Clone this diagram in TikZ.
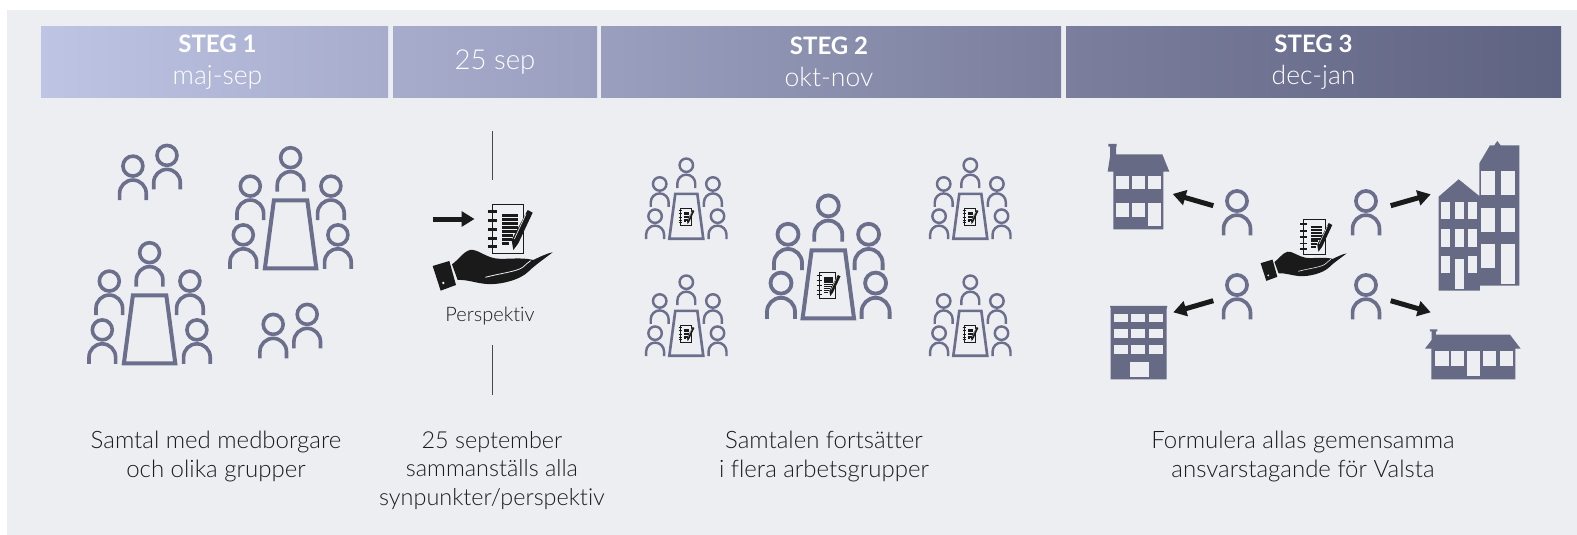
\documentclass[tikz,border=0pt]{standalone}
\usepackage{fontspec}
\setmainfont{Lato Light}[BoldFont=Lato Bold,Ligatures=NoCommon]
\usetikzlibrary{arrows.meta}
\definecolor{bgc}{HTML}{ECEEF2}
\definecolor{ppl}{HTML}{6B6F8C}
\definecolor{bld}{HTML}{666A85}
\definecolor{ink}{HTML}{1A1A1A}
\definecolor{txt}{HTML}{1C1C1C}
\definecolor{ba}{HTML}{BEC4E3}
\definecolor{bb}{HTML}{A7ACCC}
\definecolor{bc}{HTML}{9A9FBF}
\definecolor{bd}{HTML}{7B7F9D}
\definecolor{be}{HTML}{5F6382}
\tikzset{
  bar/.style={inner sep=0pt,minimum height=71pt,text=white,align=center,font=\fontsize{26.5}{32}\selectfont},
  caption/.style={text=txt,align=center,font=\fontsize{24}{28.6}\selectfont,inner sep=0pt,anchor=north},
  pline/.style={draw=ppl,line cap=butt,line join=miter},
  vline/.style={draw=txt!80,line width=1pt},
  fatarrow/.style={draw=ink,line width=5pt,-{Triangle[length=13pt,width=15pt]}},
}
\newcommand{\person}[3]{%
\begin{scope}[shift={(#1,#2)},scale=#3]
  \draw[pline,line width=#3*3.8pt] (0,-35.7) circle (10.5);
  \draw[pline,line width=#3*3.8pt] (-14,0) -- (-14,-7) arc[start angle=180,end angle=360,radius=14] -- (14,0);
\end{scope}}
% x, y of the table's bottom centre, scale of the table and seats, scale of the people
\newcommand{\tablegroup}[4]{%
\begin{scope}[shift={(#1,#2)},scale=#3]
  \draw[pline,line width=#3*4pt] (-16.7,-68) -- (16.7,-68) -- (25.7,0) -- (-25.7,0) -- cycle;
\end{scope}
\pgfmathsetmacro{\gs}{#3}
\person{#1}{#2-76.7*\gs}{#4}
\person{#1-40.3*\gs}{#2-48.3*\gs}{#4}
\person{#1+40.3*\gs}{#2-48.3*\gs}{#4}
\person{#1-47.3*\gs}{#2+0.5*\gs}{#4}
\person{#1+47.3*\gs}{#2+0.5*\gs}{#4}}
\newcommand{\bookshape}[1]{%
  \draw[ink,line width=#1*3pt,fill=bgc!90!white] (218,44) rectangle (310,190);
  \foreach \yy in {65,92,119,146,170}{\draw[ink,line width=#1*7pt] (203,\yy) -- (232,\yy);}
  \foreach \yy/\xx in {77/295,89/295,101/295,113/295,125/290,137/280,149/275,161/268}{\fill[ink] (247,\yy-4) rectangle (\xx,\yy+4);}
  \fill[ink] (323,60) -- (338,68) -- (295,160) -- (280,180) -- (275,150) -- cycle;
  \draw[bgc,line width=#1*2pt] (318,72) -- (283,147);
}
\newcommand{\handshape}[1]{%
  \fill[ink] (38,228) -- (88,213) -- (108,285) -- (62,302) -- cycle;
  \fill[bgc] (70,279) circle (4);
  \fill[ink] (96,223) .. controls (115,210) and (130,185) .. (150,180)
     .. controls (170,176) and (195,200) .. (225,205)
     .. controls (255,210) and (300,200) .. (340,210)
     .. controls (355,203) and (380,190) .. (398,187)
     .. controls (375,205) and (345,225) .. (325,245)
     .. controls (300,270) and (240,285) .. (200,282)
     .. controls (170,280) and (140,268) .. (113,270) -- cycle;
  \draw[bgc,line width=#1*2.4pt] (196,262) .. controls (240,250) and (290,245) .. (308,232) .. controls (318,224) and (322,218) .. (332,212);
}
\newcommand{\placebook}[3]{%
\begin{scope}[shift={(#1,#2)},scale=#3,shift={(-269,-117)}]\bookshape{#3}\end{scope}}
\newcommand{\hb}[1]{{\fontsize{24}{32}\selectfont\textbf{#1}}}
\begin{document}
\begin{tikzpicture}[x=1pt,y=-1pt]
\useasboundingbox (0,0) rectangle (1577,535);
\fill[white] (0,0) rectangle (1577,535);
\fill[bgc] (7,10) rectangle (1577,535);
% headers
\node[bar,left color=ba,right color=bb,minimum width=347pt] (b1) at (214.5,62) {\hspace*{6pt}\hb{STEG 1}\\\hspace*{6pt}maj-sep};
\node[bar,left color=bb,right color=bc,minimum width=204pt] (b2) at (495,62) {\raisebox{-6pt}{\fontsize{27.5}{32}\selectfont 25 sep}};
\node[bar,left color=bc,right color=bd,minimum width=460pt] (b3) at (831,62) {\hspace*{-4pt}\hb{STEG 2}\\\hspace*{-4pt}okt-nov};
\node[bar,left color=bd,right color=be,minimum width=495pt] (b4) at (1313.5,62) {\hb{STEG 3}\\dec-jan};
% captions
\node[caption] (c1) at (216,431) {Samtal med medborgare\\och olika grupper};
\node[caption,font=\fontsize{23.4}{28.6}\selectfont] (c2) at (492,431) {25 september\\sammanställs alla\\synpunkter/perspektiv};
\node[caption] (c3) at (824,431) {Samtalen fortsätter\\i flera arbetsgrupper};
\node[caption] (c4) at (1303,431) {Formulera allas gemensamma\\ansvarstagande för Valsta};
% step 1
\person{132.9}{200}{0.95}
\person{167}{189.3}{0.95}
\person{273.2}{358.3}{0.95}
\person{307.2}{348.3}{0.95}
\tablegroup{290.6}{268.3}{1}{0.95}
\tablegroup{149.6}{363.3}{1}{0.95}
% 25 sep
\coordinate (v1a) at (492.3,131);
\coordinate (v1b) at (492.3,180.3);
\coordinate (v2a) at (492.3,345.3);
\coordinate (v2b) at (492.3,394.7);
\draw[vline] (v1a) -- (v1b);
\draw[vline] (v2a) -- (v2b);
\coordinate (aa) at (432.5,219);
\coordinate (ab) at (474.5,219);
\draw[fatarrow] (aa) -- (ab);
\begin{scope}[shift={(420,190)},scale=0.3333]
  \bookshape{0.3333}
  \handshape{0.3333}
\end{scope}
\node[text=txt,font=\fontsize{20}{24}\selectfont,inner sep=0pt] (persp) at (490,316) {Perspektiv};
% step 2
\tablegroup{828.3}{318.3}{1}{1}
\placebook{828.3}{285}{0.177}
\foreach \gx in {686.3,970.3}{
  \foreach \gy in {238.7,355.7}{
    \tablegroup{\gx}{\gy}{0.66}{0.64}
    \placebook{\gx}{\gy-22}{0.117}
  }
}
% step 3
\person{1237}{235.3}{0.96}
\person{1237}{319.3}{0.96}
\person{1366}{235.3}{0.96}
\person{1366}{319.3}{0.96}
\begin{scope}[shift={(1251.5,208.7)},scale=0.239]
  \bookshape{0.239}
  \handshape{0.239}
\end{scope}
\coordinate (p1) at (1213.3,205.7); \coordinate (h1) at (1172.7,194);
\coordinate (p2) at (1213.3,300.7); \coordinate (h2) at (1173.3,312.3);
\coordinate (p3) at (1390.7,205.7); \coordinate (h3) at (1430.7,194.3);
\coordinate (p4) at (1390.7,300.7); \coordinate (h4) at (1430.7,312.3);
\draw[fatarrow] (p1) -- (h1);
\draw[fatarrow] (p2) -- (h2);
\draw[fatarrow] (p3) -- (h3);
\draw[fatarrow] (p4) -- (h4);
\begin{scope}[shift={(1080,120)},scale=0.3333]
  % building 1
  \fill[bld] (85,72) -- (110,72) -- (110,80) -- (108,80) -- (108,103) -- (247,103) -- (268,155) -- (250,155) -- (250,328) -- (100,328) -- (100,155) -- (83,155) -- (90,110) -- (90,80) -- (85,80) -- cycle;
  \foreach \wa/\wb/\wc/\wd in {108/168/148/208,155/168/194/208,204/168/243/208,108/250/148/290,155/250/194/290,204/250/243/318}
    {\fill[bgc] (\wa,\wb) rectangle (\wc,\wd);}
  % building 2
  \fill[bld] (90,558) -- (262,558) -- (260,566) -- (260,778) -- (92,778) -- (92,566) -- cycle;
  \foreach \wa/\wb/\wc/\wd in {101/582/143/607,154/582/195/607,208/582/250/607,101/628/143/655,154/628/195/655,208/628/250/655,101/676/143/702,154/676/195/702,208/676/250/702,149/725/207/772}
    {\fill[bgc] (\wa,\wb) rectangle (\wc,\wd);}
  % building 3
  \fill[bld] (1198,130) -- (1230,76) -- (1243,76) -- (1252,63) -- (1262,76) -- (1318,76) -- (1318,497) -- (1200,497) -- (1200,512) -- (1076,512) -- (1076,230) -- (1136,178) -- (1198,228) -- cycle;
  \foreach \wa/\wb/\wc/\wd in {1203/153/1245/226,1263/153/1305/226,1203/263/1245/336,1263/263/1305/336,1203/373/1245/444,1263/373/1305/492,1082/245/1110/298,1124/245/1152/298,1164/245/1192/298,1082/327/1110/381,1124/327/1152/381,1164/327/1192/381,1082/407/1110/460,1124/417/1152/507,1164/407/1192/460}
    {\fill[bgc] (\wa,\wb) rectangle (\wc,\wd);}
  % building 4
  \fill[bld] (1050,628) -- (1072,628) -- (1072,634) -- (1068,634) -- (1068,644) -- (1290,644) -- (1322,686) -- (1306,686) -- (1306,778) -- (1054,778) -- (1054,686) -- (1035,686) -- (1055,660) -- (1055,634) -- (1050,634) -- cycle;
  \foreach \wa/\wb/\wc/\wd in {1066/694/1106/738,1113/694/1152/738,1210/694/1248/738,1260/694/1298/738,1160/694/1200/767}
    {\fill[bgc] (\wa,\wb) rectangle (\wc,\wd);}
\end{scope}
\end{tikzpicture}
\end{document}
